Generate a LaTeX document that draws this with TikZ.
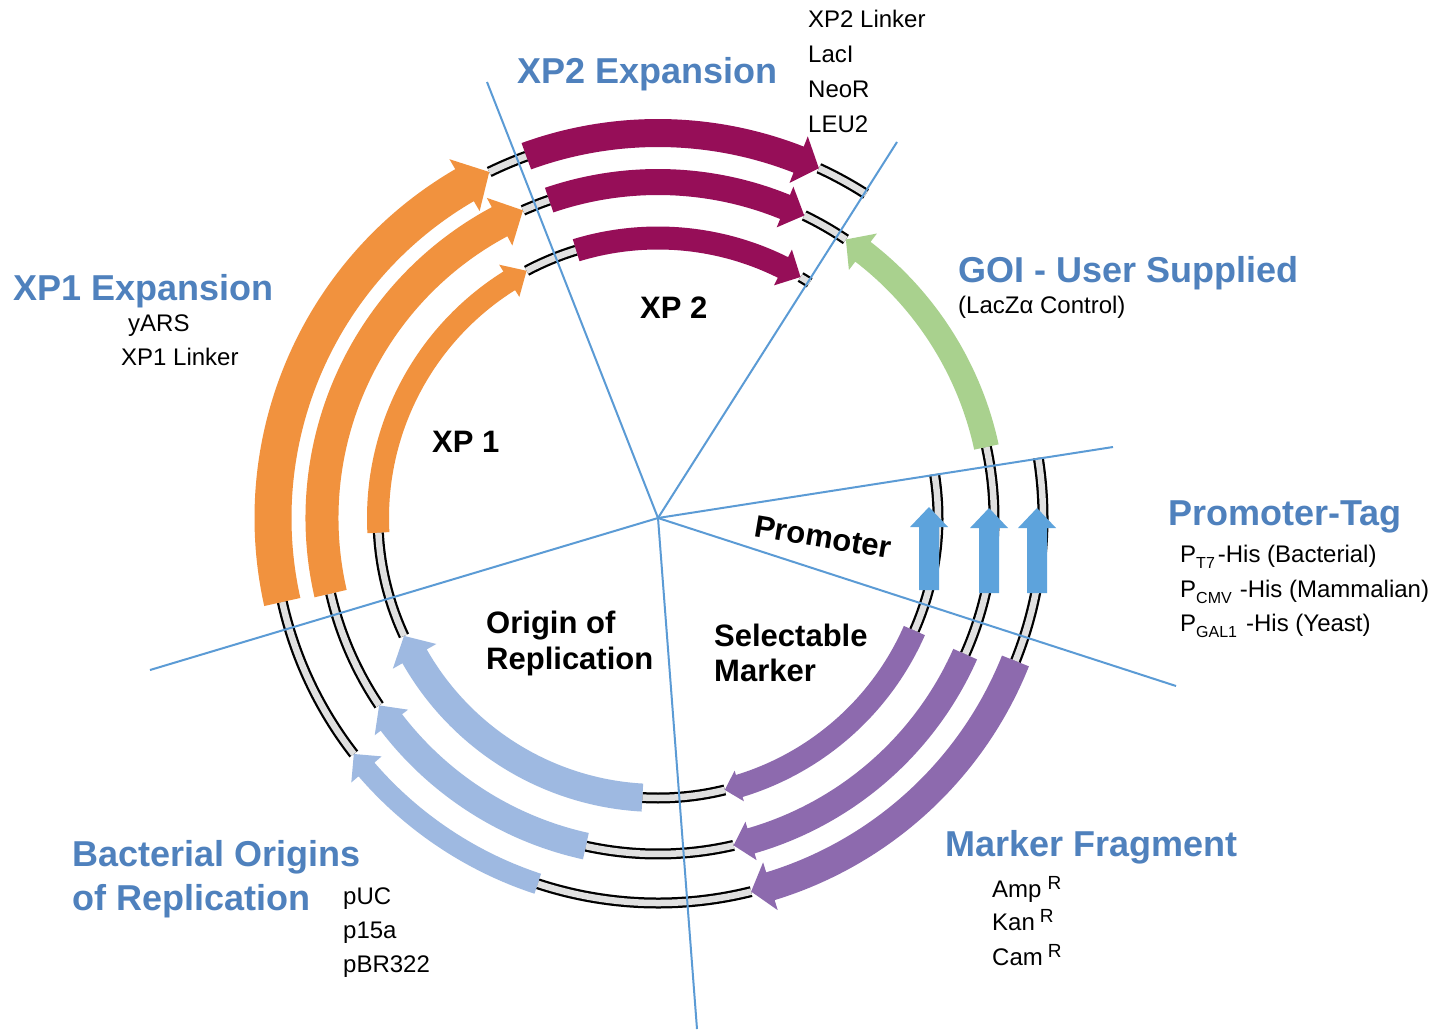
\documentclass[tikz,border=0pt]{standalone}
\usepackage{fontspec}
\setmainfont{Liberation Sans}
\definecolor{hblue}{RGB}{79,129,189}
\definecolor{orng}{RGB}{241,146,62}
\definecolor{mag}{RGB}{150,14,88}
\definecolor{grn}{RGB}{169,209,142}
\definecolor{lblue}{RGB}{158,185,225}
\definecolor{pblue}{RGB}{93,163,220}
\definecolor{purp}{RGB}{141,106,174}
\definecolor{sepc}{RGB}{91,155,213}
\definecolor{ringg}{RGB}{224,224,224}

\newcommand\ringseg[3]{%
  \draw[line width=11pt, black] (#2:#1) arc[start angle=#2, end angle=#3, radius=#1];
  \draw[line width=6.5pt, ringg] (#2:#1) arc[start angle=#2, end angle=#3, radius=#1];
}
\newcommand\carrow[7]{% color, r, tail, tip, w, hw, hl
  \pgfmathsetmacro\caRi{#2-#5/2}
  \pgfmathsetmacro\caRo{#2+#5/2}
  \pgfmathsetmacro\caHi{#2-#6}
  \pgfmathsetmacro\caHo{#2+#6}
  \pgfmathsetmacro\caB{(#4)-sign((#4)-(#3))*(#7)/(#2)*57.29578}
  \fill[#1] (#3:\caRi) arc[start angle=#3, end angle=\caB, radius=\caRi] -- (\caB:\caHi) -- (#4:#2) -- (\caB:\caHo) -- (\caB:\caRo) arc[start angle=\caB, end angle=#3, radius=\caRo] -- cycle;
}
\newcommand\sbs[2]{\raisebox{-6pt}{\fontsize{16}{16}\selectfont #1}\hspace{#2}}
\newcommand\sps[1]{\raisebox{8pt}{\fontsize{19}{19}\selectfont #1}}

\tikzset{
  hdtxt/.style={text=hblue, font=\bfseries\fontsize{36}{36}\selectfont, inner sep=0pt, anchor=base west},
  bltxt/.style={font=\bfseries\fontsize{31}{31}\selectfont, inner sep=0pt, anchor=base west},
  lstxt/.style={font=\fontsize{24}{24}\selectfont, inner sep=0pt, anchor=base west},
  sepline/.style={draw=sepc, line width=2pt},
  uparr/.style={fill=pblue},
}

\begin{document}
\begin{tikzpicture}[x=1pt,y=-1pt]
\fill[white] (0,0) rectangle (1447,1029);
\useasboundingbox (0,0) rectangle (1447,1029);

\begin{scope}[shift={(658,518)}, y=1pt]
  % outer ring r=385
  \ringseg{385}{110}{116}
  \ringseg{385}{57.3}{65.3}
  \ringseg{385}{-21.8}{9}
  \ringseg{385}{-108.2}{-76}
  \ringseg{385}{192.6}{217.8}
  % middle ring r=336
  \ringseg{336}{108.9}{113.7}
  \ringseg{336}{56}{64.2}
  \ringseg{336}{-23.9}{12.2}
  \ringseg{336}{-102.4}{-77}
  \ringseg{336}{193}{213.9}
  % inner ring r=280
  \ringseg{280}{107}{118}
  \ringseg{280}{57.2}{59.4}
  \ringseg{280}{-23.7}{9}
  \ringseg{280}{-93.2}{-76.2}
  \ringseg{280}{183}{204.9}

  % orange
  \carrow{orng}{385}{192.6}{116}{37}{30}{28}
  \carrow{orng}{336}{193}{113.7}{33}{27}{26}
  \carrow{orng}{280}{183}{118}{22}{19}{20}
  % magenta
  \carrow{mag}{385}{110}{65.3}{28}{25}{22}
  \carrow{mag}{336}{108.9}{64.2}{26}{22}{21}
  \carrow{mag}{280}{107}{59.4}{23}{20}{20}
  % green
  \carrow{grn}{336}{12.2}{56}{25}{23}{21}
  % purple
  \carrow{purp}{280}{-23.7}{-76.2}{23}{16}{15}
  \carrow{purp}{336}{-23.9}{-77}{26}{20}{18}
  \carrow{purp}{385}{-21.8}{-76}{29}{25}{20}
  % light blue
  \carrow{lblue}{280}{-93.2}{-155.1}{28}{25}{23}
  \carrow{lblue}{336}{-102.4}{-146.1}{27}{21}{21}
  \carrow{lblue}{385}{-108.2}{-142.2}{21}{20}{20}
\end{scope}

% promoter arrows
\fill[uparr] (919,590) -- (919,527) -- (910,527) -- (929,507) -- (948,527) -- (939,527) -- (939,590) -- cycle;
\fill[uparr] (979,593) -- (979,528) -- (970,528) -- (989,508) -- (1008,528) -- (999,528) -- (999,593) -- cycle;
\fill[uparr] (1027,593) -- (1027,528) -- (1018,528) -- (1037,508) -- (1056,528) -- (1047,528) -- (1047,593) -- cycle;

% separator lines
\coordinate (O) at (658,518);
\coordinate (E1) at (487,82);
\coordinate (E2) at (897,142);
\coordinate (E3) at (1113,447);
\coordinate (E4) at (1176,686);
\coordinate (E5) at (697,1029);
\coordinate (E6) at (150,670);
\draw[sepline] (O) -- (E1);
\draw[sepline] (O) -- (E2);
\draw[sepline] (O) -- (E3);
\draw[sepline] (O) -- (E4);
\draw[sepline] (O) -- (E5);
\draw[sepline] (O) -- (E6);

% texts
\node[hdtxt] (t1) at (517,83) {XP2 Expansion};
\node[lstxt] (t2) at (808,27) {XP2 Linker};
\node[lstxt] (t3) at (808,62) {LacI};
\node[lstxt] (t4) at (808,97) {NeoR};
\node[lstxt] (t5) at (808,132) {LEU2};
\node[hdtxt] (t6) at (13,300) {XP1 Expansion};
\node[lstxt] (t7) at (128,331) {yARS};
\node[lstxt] (t8) at (121,365) {XP1 Linker};
\node[bltxt] (t9) at (432,452) {XP 1};
\node[bltxt] (t10) at (640,318) {XP 2};
\node[hdtxt] (t11) at (958,282) {GOI - User Supplied};
\node[lstxt] (t12) at (958,313) {(LacZα Control)};
\node[hdtxt] (t13) at (1168,525) {Promoter-Tag};
\node[lstxt] (t14) at (1180,562) {P\sbs{T7}{3pt}-His (Bacterial)};
\node[lstxt] (t15) at (1180,597) {P\sbs{CMV}{8pt}-His (Mammalian)};
\node[lstxt] (t16) at (1180,631) {P\sbs{GAL1}{9pt}-His (Yeast)};
\node[bltxt, anchor=center, rotate=-9.5] (t17) at (823,537) {Promoter};
\node[bltxt] (t18) at (714,646) {Selectable};
\node[bltxt] (t19) at (714,681) {Marker};
\node[bltxt] (t20) at (486,633) {Origin of};
\node[bltxt] (t21) at (486,669) {Replication};
\node[hdtxt] (t22) at (945,856) {Marker Fragment};
\node[lstxt] (t23) at (992,897) {Amp\hspace{6pt}\sps{R}};
\node[lstxt] (t24) at (992,930) {Kan\hspace{5pt}\sps{R}};
\node[lstxt] (t25) at (992,965) {Cam\hspace{5pt}\sps{R}};
\node[hdtxt] (t26) at (72,866) {Bacterial Origins};
\node[hdtxt] (t27) at (72,910) {of Replication};
\node[lstxt] (t28) at (343,904) {pUC};
\node[lstxt] (t29) at (343,938) {p15a};
\node[lstxt] (t30) at (343,972) {pBR322};
\end{tikzpicture}
\end{document}
